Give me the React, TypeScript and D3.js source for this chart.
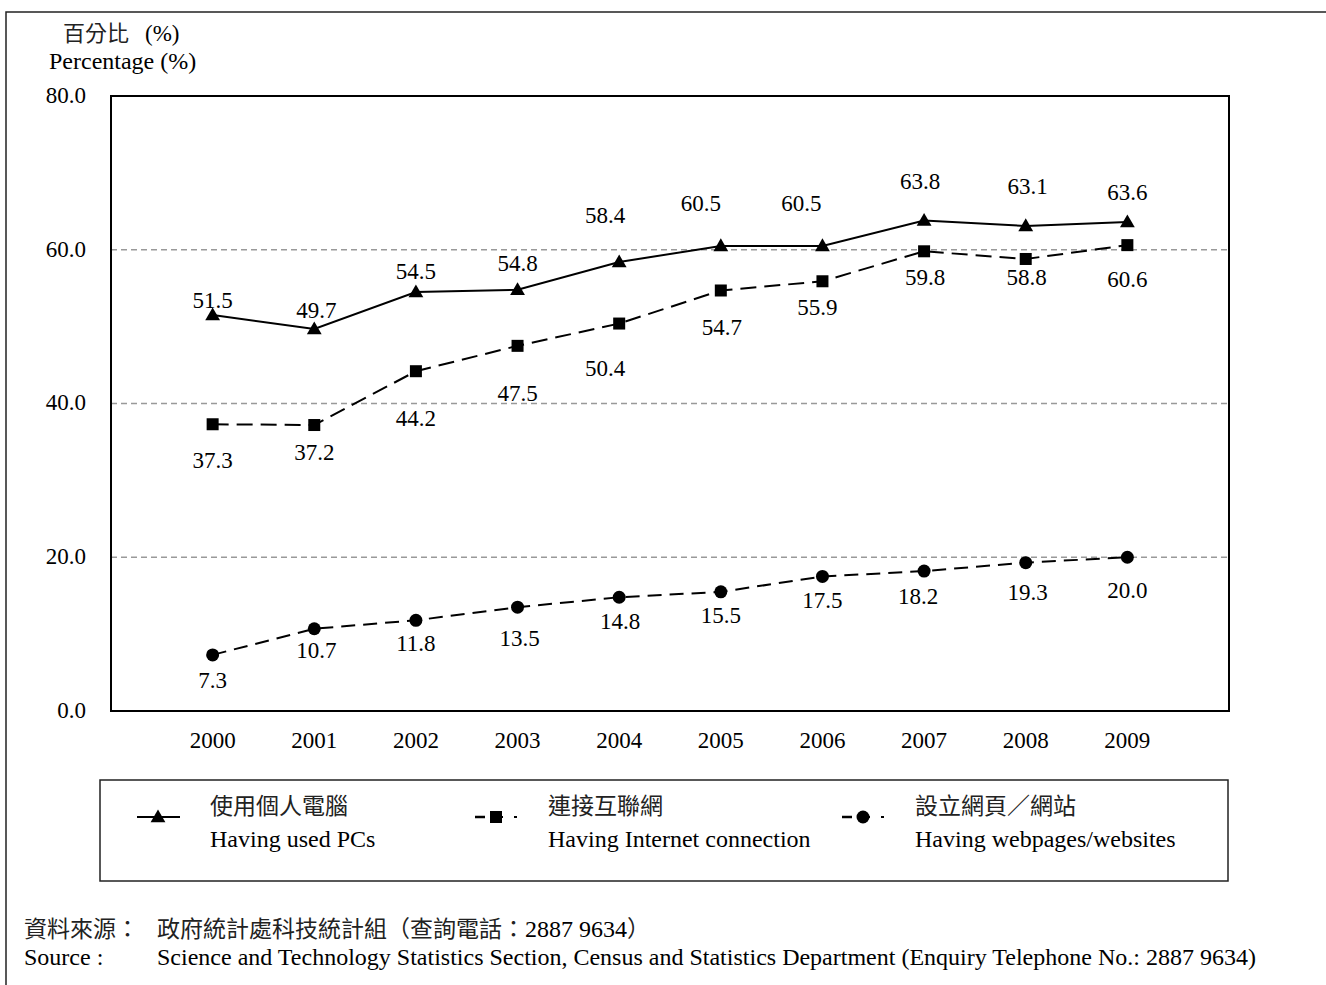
import React from "react";
import * as d3 from "d3";

const years = ["2000", "2001", "2002", "2003", "2004", "2005", "2006", "2007", "2008", "2009"];
const pcValues = [51.5, 49.7, 54.5, 54.8, 58.4, 60.5, 60.5, 63.8, 63.1, 63.6];
const internetValues = [37.3, 37.2, 44.2, 47.5, 50.4, 54.7, 55.9, 59.8, 58.8, 60.6];
const webValues = [7.3, 10.7, 11.8, 13.5, 14.8, 15.5, 17.5, 18.2, 19.3, 20.0];
const yTicks = [0, 20, 40, 60, 80];

// label placement offsets (layout only)
const pcLabelDx = [0, 2, 0, 0, -14, -20, -21, -4, 2, 0];
const pcLabelDy = [-15, -19, -21, -27, -47, -43, -43, -40, -40, -30];
const netLabelDx = [0, 0, 0, 0, -14, 1, -5, 1, 1, 0];
const netLabelDy = [36, 27, 47, 47, 44, 36, 26, 26, 18, 34];
const webLabelDx = [0, 2, 0, 2, 1, 0, 0, -6, 2, 0];
const webLabelDy = [25, 21, 23, 31, 24, 23, 23, 25, 29, 33];

const W = 1326;
const H = 985;
const plot = { left: 111, right: 1229, top: 96, bottom: 711 };
const serif = "'Liberation Serif', 'Times New Roman', 'Noto Sans CJK TC', serif";
const cjk = "'Noto Sans CJK TC', 'Liberation Serif', serif";
const FS = 23;
const FT = 24;

export default function App() {
  const x = d3.scalePoint<string>().domain(years).range([plot.left, plot.right]).padding(1);
  const y = d3.scaleLinear().domain([0, 80]).range([plot.bottom, plot.top]);
  const line = d3
    .line<number>()
    .x((_, i) => x(years[i]) as number)
    .y((d) => y(d));

  const tri = d3.symbol().type(d3.symbolTriangle).size(95)() as string;
  const sq = 12;
  const r = 6.5;

  const triangle = (cx: number, cy: number, k: string) => (
    <path key={k} d={tri} transform={`translate(${cx},${cy + 1})`} fill="#000" />
  );
  const square = (cx: number, cy: number, k: string) => (
    <rect key={k} x={cx - sq / 2} y={cy - sq / 2} width={sq} height={sq} fill="#000" />
  );
  const circle = (cx: number, cy: number, k: string) => <circle key={k} cx={cx} cy={cy} r={r} fill="#000" />;

  const labels = (vals: number[], dx: number[], dy: number[], key: string) =>
    vals.map((v, i) => (
      <text
        key={key + i}
        x={(x(years[i]) as number) + dx[i]}
        y={y(v) + dy[i]}
        dy="0.35em"
        textAnchor="middle"
        fontFamily={serif}
        fontSize={FS}
      >
        {v.toFixed(1)}
      </text>
    ));

  const legendItems = [
    { x: 137, zh: "使用個人電腦", en: "Having used PCs", dash: "none", marker: triangle },
    { x: 475, zh: "連接互聯網", en: "Having Internet connection", dash: "8,6", marker: square },
    { x: 842, zh: "設立網頁／網站", en: "Having webpages/websites", dash: "8,6", marker: circle },
  ];

  return (
    <svg width={W} height={H} style={{ position: "absolute", left: 0, top: 0, background: "#fff" }}>
      <rect x={0} y={0} width={W} height={H} fill="#fff" />
      {/* outer frame */}
      <path d={`M6,${H + 5} L6,12 L${W + 5},12`} fill="none" stroke="#222" strokeWidth={1.5} />

      {/* axis titles */}
      <text x={63} y={33} dy="0.35em" fontFamily={cjk} fontSize={22} fill="#222">
        百分比
      </text>
      <text x={145} y={33} dy="0.35em" fontFamily={serif} fontSize={FS}>
        (%)
      </text>
      <text x={49} y={61} dy="0.35em" fontFamily={serif} fontSize={FT}>
        Percentage (%)
      </text>

      {/* gridlines */}
      {yTicks
        .filter((t) => t > 0 && t < 80)
        .map((t) => (
          <line
            key={"g" + t}
            x1={plot.left}
            x2={plot.right}
            y1={y(t)}
            y2={y(t)}
            stroke="#999"
            strokeWidth={1.5}
            strokeDasharray="6,4"
          />
        ))}

      {/* plot box */}
      <rect
        x={plot.left}
        y={plot.top}
        width={plot.right - plot.left}
        height={plot.bottom - plot.top}
        fill="none"
        stroke="#000"
        strokeWidth={2}
      />

      {/* y tick labels */}
      {yTicks.map((t) => (
        <text key={"y" + t} x={86} y={y(t)} dy="0.3em" textAnchor="end" fontFamily={serif} fontSize={FS}>
          {t.toFixed(1)}
        </text>
      ))}

      {/* x tick labels */}
      {years.map((yr) => (
        <text key={"x" + yr} x={x(yr) as number} y={740} dy="0.35em" textAnchor="middle" fontFamily={serif} fontSize={FS}>
          {yr}
        </text>
      ))}

      {/* lines */}
      <path d={line(pcValues) as string} fill="none" stroke="#000" strokeWidth={2} />
      <path d={line(internetValues) as string} fill="none" stroke="#000" strokeWidth={2} strokeDasharray="16,8" />
      <path d={line(webValues) as string} fill="none" stroke="#000" strokeWidth={2} strokeDasharray="14,8" />

      {/* markers */}
      {pcValues.map((v, i) => triangle(x(years[i]) as number, y(v), "pt" + i))}
      {internetValues.map((v, i) => square(x(years[i]) as number, y(v), "nt" + i))}
      {webValues.map((v, i) => circle(x(years[i]) as number, y(v), "wt" + i))}

      {/* data labels */}
      {labels(pcValues, pcLabelDx, pcLabelDy, "pl")}
      {labels(internetValues, netLabelDx, netLabelDy, "nl")}
      {labels(webValues, webLabelDx, webLabelDy, "wl")}

      {/* legend */}
      <rect x={100} y={780} width={1128} height={101} fill="none" stroke="#222" strokeWidth={1.5} />
      {legendItems.map((it, i) => (
        <g key={"lg" + i}>
          {it.dash === "none" ? (
            <line x1={it.x} x2={it.x + 43} y1={817} y2={817} stroke="#000" strokeWidth={2} />
          ) : (
            <g>
              <line x1={it.x} x2={it.x + 10} y1={817} y2={817} stroke="#000" strokeWidth={2.5} />
              <line x1={it.x + 15} x2={it.x + 28} y1={817} y2={817} stroke="#000" strokeWidth={2} />
              <line x1={it.x + 39} x2={it.x + 42} y1={817} y2={817} stroke="#000" strokeWidth={2} />
            </g>
          )}
          {it.marker(it.x + 21, 817, "lm" + i)}
          <text x={it.x + 73} y={806} dy="0.35em" fontFamily={cjk} fontSize={23} fill="#222">
            {it.zh}
          </text>
          <text x={it.x + 73} y={839} dy="0.35em" fontFamily={serif} fontSize={FT}>
            {it.en}
          </text>
        </g>
      ))}

      {/* source */}
      <text x={24} y={929} dy="0.35em" fontFamily={cjk} fontSize={23} fill="#222">
        資料來源：
      </text>
      <text x={157} y={929} dy="0.35em" fontFamily={cjk} fontSize={23} fill="#222">
        政府統計處科技統計組（查詢電話：<tspan fontFamily={serif} fontSize={FT} fill="#000">2887 9634</tspan>）
      </text>
      <text x={24} y={957} dy="0.35em" fontFamily={serif} fontSize={FT}>
        Source :
      </text>
      <text x={157} y={957} dy="0.35em" fontFamily={serif} fontSize={FT}>
        Science and Technology Statistics Section, Census and Statistics Department (Enquiry Telephone No.: 2887 9634)
      </text>
    </svg>
  );
}
